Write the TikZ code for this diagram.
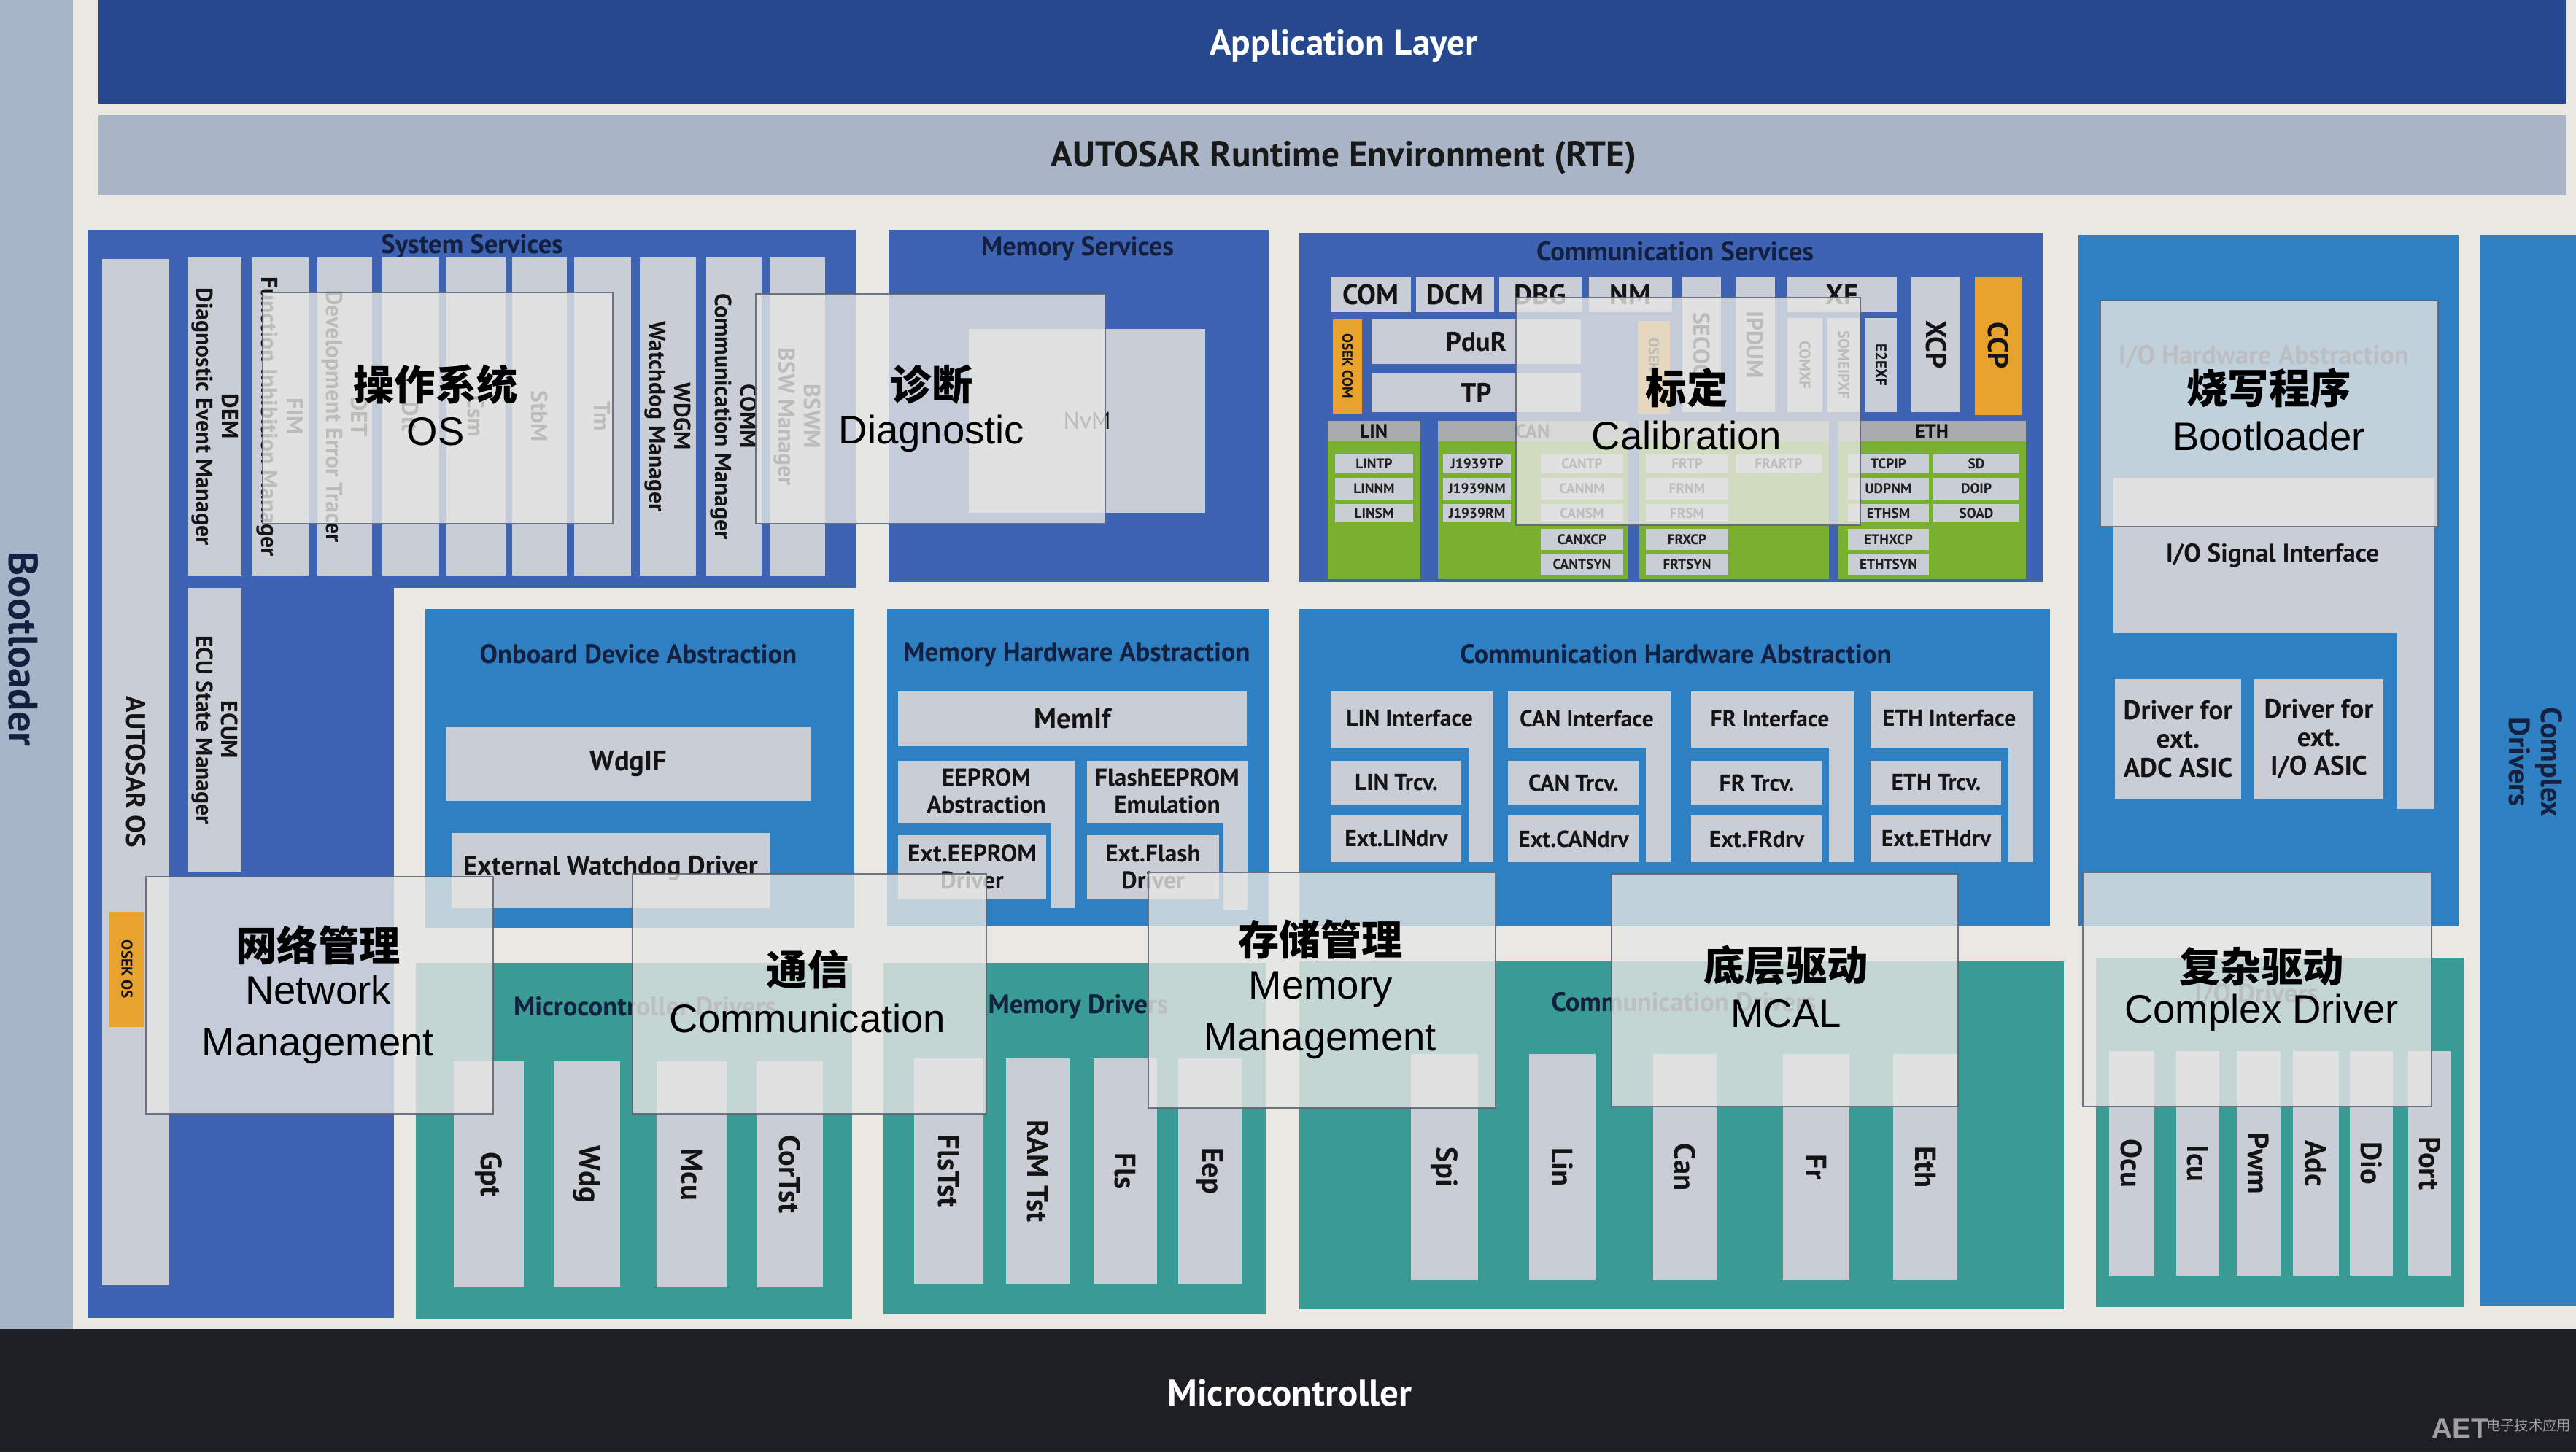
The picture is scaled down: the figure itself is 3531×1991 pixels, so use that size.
\documentclass[tikz,border=0pt]{standalone}
\usepackage{fontspec}
\setmainfont{PT Sans}
\newfontfamily\arialf{Liberation Sans}
\newfontfamily\cjkf{Noto Sans CJK SC}
\definecolor{cream}{HTML}{E9E8E3}
\definecolor{appblue}{HTML}{26488F}
\definecolor{rtegray}{HTML}{A9B5C6}
\definecolor{sysblue}{HTML}{3E63B3}
\definecolor{hwblue}{HTML}{2F80C3}
\definecolor{mcteal}{HTML}{3A9A94}
\definecolor{boxgray}{HTML}{C9CED6}
\definecolor{grn}{HTML}{79B030}
\definecolor{org}{HTML}{E8A22E}
\definecolor{hdrgray}{HTML}{A9ACAF}
\definecolor{mcblack}{HTML}{1E1F24}
\definecolor{leftstrip}{HTML}{A7B5C8}
\definecolor{titletxt}{HTML}{14203F}
\definecolor{ovlc}{HTML}{E6E6E3}
\definecolor{ovlb}{HTML}{5A6072}
\newcommand\fsz[2]{\fontsize{#1}{#2}\selectfont}
\newcommand\mybox[7]{\fill[boxgray] (#2,#3) rectangle (#4,#5);
  \node[#6] (#1) at ({(#2+#4)/2},{(#3+#5)/2}) {#7};}
\tikzset{
  ttl/.style={font=\bfseries\fsz{10.4}{12}, text=titletxt, inner sep=0pt},
  lab/.style={font=\bfseries\fsz{9}{9.9}, text=black!92, align=center, inner sep=0pt},
  vlab/.style={lab, rotate=-90},
  tinylab/.style={font=\bfseries\fsz{5.5}{6.2}, text=black!88, inner sep=0pt},
  collab/.style={font=\bfseries\fsz{11.5}{12.5}, text=black!92, rotate=-90, inner sep=0pt},
  ovl/.style={fill=ovlc, fill opacity=0.8, draw=ovlb, draw opacity=0.85, line width=0.8pt},
  cjk/.style={font=\cjkf\bfseries\fsz{16}{18}, text=black, inner sep=0pt},
  lat/.style={font=\arialf\fsz{15.5}{18}, text=black, inner sep=0pt},
}
\begin{document}
\begin{tikzpicture}[x=0.01cm,y=-0.01cm]
\useasboundingbox (0,0) rectangle (3531,1991);
% ---------- background ----------
\fill[cream] (0,0) rectangle (3531,1991);
\fill[leftstrip] (0,0) rectangle (100,1822);
\node[font=\bfseries\fsz{16}{18}, text=titletxt, rotate=-90, inner sep=0pt] (bootl) at (32,890) {Bootloader};
% ---------- application layer / RTE ----------
\fill[appblue] (135,0) rectangle (3517,142);
\node[font=\bfseries\fsz{14}{16}, text=white, inner sep=0pt] (app) at (1842,63) {Application Layer};
\fill[rtegray] (135,158) rectangle (3517,268);
\node[font=\bfseries\fsz{14}{16}, text=black!90, inner sep=0pt] (rte) at (1842,216) {AUTOSAR Runtime Environment (RTE)};
% ---------- microcontroller ----------
\fill[mcblack] (0,1822) rectangle (3531,1991);
\node[font=\bfseries\fsz{14.5}{16}, text=white, inner sep=0pt] (mc) at (1768,1910) {Microcontroller};
\node[font=\arialf\bfseries\fsz{11}{12}, text=gray!75, inner sep=0pt] (aet) at (3372,1958) {AET};
\node[font=\cjkf\fsz{5.5}{6}, text=gray!75, inner sep=0pt] (aetcn) at (3466,1954) {电子技术应用};
% ---------- System Services ----------
\fill[sysblue] (120,315) rectangle (1173,806);
\fill[sysblue] (120,806) rectangle (540,1807);
\node[ttl] (sst) at (647,338) {System Services};
\mybox{aos}{140}{355}{232}{1762}{vlab, font=\bfseries\fsz{10.5}{12}}{AUTOSAR OS}
\fill[org] (150,1250) rectangle (198,1408);
\node[vlab, font=\bfseries\fsz{6}{7}] (osekos) at (174,1329) {OSEK OS};
\mybox{dem}{258}{353}{331}{789}{vlab}{DEM\\Diagnostic Event Manager}
\mybox{fim}{345}{353}{423}{789}{vlab}{FIM\\Function Inhibition Manager}
\mybox{det}{435}{353}{510}{789}{vlab}{DET\\Development Error Tracer}
\mybox{dlt}{524}{353}{602}{789}{vlab}{Dlt}
\mybox{csm}{612}{353}{693}{789}{vlab}{Csm}
\mybox{stbm}{702}{353}{777}{789}{vlab}{StbM}
\mybox{tm}{787}{353}{865}{789}{vlab}{Tm}
\mybox{wdgm}{877}{353}{954}{789}{vlab}{WDGM\\Watchdog Manager}
\mybox{comm}{968}{353}{1044}{789}{vlab}{COMM\\Communication Manager}
\mybox{bswm}{1055}{353}{1131}{789}{vlab}{BSWM\\BSW Manager}
\mybox{ecum}{258}{806}{331}{1195}{vlab}{ECUM\\ECU State Manager}
% ---------- Memory Services ----------
\fill[sysblue] (1218,315) rectangle (1739,798);
\node[ttl] (mst) at (1477,341) {Memory Services};
\mybox{nvm}{1328}{451}{1652}{703}{lab, font=\fsz{9.5}{10}}{NvM}
% ---------- Communication Services ----------
\fill[sysblue] (1781,320) rectangle (2800,798);
\node[ttl] (cst) at (2296,345) {Communication Services};
\mybox{com}{1824}{380}{1934}{428}{lab, font=\bfseries\fsz{11}{12}}{COM}
\mybox{dcm}{1941}{380}{2048}{428}{lab, font=\bfseries\fsz{11}{12}}{DCM}
\mybox{dbg}{2055}{380}{2168}{428}{lab, font=\bfseries\fsz{11}{12}}{DBG}
\mybox{nm}{2178}{380}{2292}{428}{lab, font=\bfseries\fsz{11}{12}}{NM}
\mybox{secoc}{2306}{380}{2359}{565}{vlab}{SECOC}
\mybox{ipdum}{2379}{380}{2433}{565}{vlab}{IPDUM}
\mybox{xf}{2450}{380}{2600}{428}{lab, font=\bfseries\fsz{11}{12}}{XF}
\mybox{comxf}{2450}{436}{2498}{565}{vlab, font=\bfseries\fsz{6}{7}}{COMXF}
\mybox{someipxf}{2505}{436}{2550}{565}{vlab, font=\bfseries\fsz{6}{7}}{SOMEIPXF}
\mybox{etoexf}{2557}{436}{2600}{565}{vlab, font=\bfseries\fsz{6}{7}}{E2EXF}
\mybox{xcp}{2620}{380}{2687}{565}{vlab, font=\bfseries\fsz{11}{12}}{XCP}
\fill[org] (2707,380) rectangle (2771,569);
\node[vlab, font=\bfseries\fsz{11}{12}] (ccp) at (2739,474) {CCP};
\fill[org] (1827,438) rectangle (1867,567);
\node[vlab, font=\bfseries\fsz{5.5}{6.5}] (osekcom) at (1847,502) {OSEK COM};
\fill[org] (2245,440) rectangle (2289,567);
\node[vlab, font=\bfseries\fsz{5.5}{6.5}] (oseknm) at (2267,503) {OSEK NM};
\mybox{pdur}{1880}{438}{2167}{499}{lab, font=\bfseries\fsz{10.5}{12}}{PduR}
\mybox{tp}{1880}{512}{2167}{565}{lab, font=\bfseries\fsz{10.5}{12}}{TP}
% bus groups
\fill[hdrgray] (1820,577) rectangle (1947,605);
\fill[grn] (1820,605) rectangle (1947,794);
\node[lab, font=\bfseries\fsz{7.5}{8}] (linh) at (1883,591) {LIN};
\fill[hdrgray] (1971,577) rectangle (2232,605);
\fill[grn] (1971,605) rectangle (2232,794);
\node[lab, font=\bfseries\fsz{7.5}{8}] (canh) at (2101,591) {CAN};
\fill[hdrgray] (2247,577) rectangle (2507,605);
\fill[grn] (2247,605) rectangle (2507,794);
\fill[hdrgray] (2520,577) rectangle (2777,605);
\fill[grn] (2520,605) rectangle (2777,794);
\node[lab, font=\bfseries\fsz{7.5}{8}] (ethh) at (2648,591) {ETH};
\mybox{lintp}{1830}{623}{1937}{648}{tinylab}{LINTP}
\mybox{linnm}{1830}{655}{1937}{685}{tinylab}{LINNM}
\mybox{linsm}{1830}{691}{1937}{716}{tinylab}{LINSM}
\mybox{jtp}{1978}{623}{2071}{648}{tinylab}{J1939TP}
\mybox{jnm}{1978}{655}{2071}{685}{tinylab}{J1939NM}
\mybox{jrm}{1978}{691}{2071}{716}{tinylab}{J1939RM}
\mybox{cantp}{2112}{623}{2225}{648}{tinylab}{CANTP}
\mybox{cannm}{2112}{655}{2225}{685}{tinylab}{CANNM}
\mybox{cansm}{2112}{691}{2225}{716}{tinylab}{CANSM}
\mybox{canxcp}{2112}{725}{2225}{754}{tinylab}{CANXCP}
\mybox{cantsyn}{2112}{759}{2225}{788}{tinylab}{CANTSYN}
\mybox{frtp}{2256}{623}{2369}{648}{tinylab}{FRTP}
\mybox{frnm}{2256}{655}{2369}{685}{tinylab}{FRNM}
\mybox{frsm}{2256}{691}{2369}{716}{tinylab}{FRSM}
\mybox{frxcp}{2256}{725}{2369}{754}{tinylab}{FRXCP}
\mybox{frtsyn}{2256}{759}{2369}{788}{tinylab}{FRTSYN}
\mybox{frartp}{2379}{623}{2497}{648}{tinylab}{FRARTP}
\mybox{tcpip}{2533}{623}{2644}{648}{tinylab}{TCPIP}
\mybox{udpnm}{2533}{655}{2644}{685}{tinylab}{UDPNM}
\mybox{ethsm}{2533}{691}{2644}{716}{tinylab}{ETHSM}
\mybox{ethxcp}{2533}{725}{2644}{754}{tinylab}{ETHXCP}
\mybox{ethtsyn}{2533}{759}{2644}{788}{tinylab}{ETHTSYN}
\mybox{sd}{2650}{623}{2768}{648}{tinylab}{SD}
\mybox{doip}{2650}{655}{2768}{685}{tinylab}{DOIP}
\mybox{soad}{2650}{691}{2768}{716}{tinylab}{SOAD}
% ---------- I/O Hardware Abstraction ----------
\fill[hwblue] (2849,322) rectangle (3370,1270);
\node[ttl] (iohw) at (3103,489) {I/O Hardware Abstraction};
\fill[boxgray] (2897,656) rectangle (3337,868);
\fill[boxgray] (3285,656) rectangle (3337,1109);
\node[lab, font=\bfseries\fsz{10}{11}] (iosig) at (3115,762) {I/O Signal Interface};
\mybox{adcasic}{2899}{931}{3072}{1095}{lab, font=\bfseries\fsz{10.5}{11.2}}{Driver for\\ext.\\ADC ASIC}
\mybox{ioasic}{3090}{931}{3267}{1095}{lab, font=\bfseries\fsz{10.5}{11.2}}{Driver for\\ext.\\I/O ASIC}
% ---------- Complex Drivers ----------
\fill[hwblue] (3400,322) rectangle (3531,1790);
\node[vlab, font=\bfseries\fsz{11.5}{12.5}, text=titletxt] (cdrv) at (3476,1045) {Complex\\Drivers};
% ---------- Onboard Device Abstraction ----------
\fill[hwblue] (583,835) rectangle (1171,1272);
\node[ttl] (oda) at (875,897) {Onboard Device Abstraction};
\mybox{wdgif}{611}{997}{1112}{1098}{lab, font=\bfseries\fsz{11}{12}}{WdgIF}
\fill[boxgray] (619,1142) rectangle (1055,1245);
\node[lab, font=\bfseries\fsz{10.5}{12}] (extwdg) at (837,1190) {External Watchdog Driver};
% ---------- Memory Hardware Abstraction ----------
\fill[hwblue] (1216,835) rectangle (1739,1270);
\node[ttl] (mha) at (1476,897) {Memory Hardware Abstraction};
\mybox{memif}{1231}{948}{1709}{1023}{lab, font=\bfseries\fsz{11}{12}}{MemIf}
\fill[boxgray] (1231,1043) rectangle (1474,1128);
\fill[boxgray] (1441,1043) rectangle (1474,1245);
\node[lab, font=\bfseries\fsz{9.5}{10.5}] (eepabs) at (1352,1084) {EEPROM\\Abstraction};
\fill[boxgray] (1490,1043) rectangle (1710,1128);
\fill[boxgray] (1677,1043) rectangle (1710,1247);
\node[lab, font=\bfseries\fsz{9.5}{10.5}] (flsemu) at (1600,1084) {FlashEEPROM\\Emulation};
\mybox{exteep}{1231}{1145}{1434}{1232}{lab, font=\bfseries\fsz{9.5}{10.5}}{Ext.EEPROM\\Driver}
\mybox{extfls}{1490}{1145}{1671}{1232}{lab, font=\bfseries\fsz{9.5}{10.5}}{Ext.Flash\\Driver}
% ---------- Communication Hardware Abstraction ----------
\fill[hwblue] (1781,835) rectangle (2810,1270);
\node[ttl] (cha) at (2297,897) {Communication Hardware Abstraction};
\foreach \nm/\x/\lbl in {lin/1824/LIN,can/2067/CAN,fr/2318/FR,eth/2564/ETH}{
  \fill[boxgray] (\x,948) rectangle (\x+223,1025);
  \fill[boxgray] (\x+189,948) rectangle (\x+223,1182);
  \fill[boxgray] (\x,1043) rectangle (\x+179,1103);
  \fill[boxgray] (\x,1118) rectangle (\x+179,1182);
  \node[lab] (\nm-if) at (\x+108,985) {\lbl\ Interface};
  \node[lab] (\nm-tr) at (\x+90,1073) {\lbl\ Trcv.};
  \node[lab] (\nm-ex) at (\x+90,1150) {Ext.\lbl drv};
}
% ---------- Microcontroller Drivers ----------
\fill[mcteal] (570,1320) rectangle (1168,1808);
\node[ttl] (mcd) at (884,1380) {Microcontroller Drivers};
\mybox{gpt}{622}{1455}{718}{1765}{collab}{Gpt}
\mybox{wdg}{759}{1455}{850}{1765}{collab}{Wdg}
\mybox{mcu}{900}{1455}{996}{1765}{collab}{Mcu}
\mybox{cortst}{1037}{1455}{1128}{1765}{collab}{CorTst}
% ---------- Memory Drivers ----------
\fill[mcteal] (1211,1320) rectangle (1735,1802);
\node[ttl] (memd) at (1478,1380) {Memory Drivers};
\mybox{flstst}{1253}{1451}{1348}{1760}{collab}{FlsTst}
\mybox{ramtst}{1379}{1451}{1466}{1760}{collab}{RAM Tst}
\mybox{fls}{1499}{1451}{1586}{1760}{collab}{Fls}
\mybox{eep}{1615}{1451}{1702}{1760}{collab}{Eep}
% ---------- Communication Drivers ----------
\fill[mcteal] (1781,1318) rectangle (2829,1795);
\node[ttl] (comd) at (2308,1374) {Communication Drivers};
\mybox{spi}{1934}{1445}{2026}{1755}{collab}{Spi}
\mybox{lin}{2096}{1445}{2187}{1755}{collab}{Lin}
\mybox{can}{2266}{1445}{2353}{1755}{collab}{Can}
\mybox{fr}{2444}{1445}{2535}{1755}{collab}{Fr}
\mybox{eth}{2595}{1445}{2683}{1755}{collab}{Eth}
% ---------- I/O Drivers ----------
\fill[mcteal] (2873,1313) rectangle (3378,1792);
\node[ttl] (iod) at (3093,1364) {I/O Drivers};
\mybox{ocu}{2891}{1441}{2953}{1749}{collab}{Ocu}
\mybox{icu}{2983}{1441}{3042}{1749}{collab}{Icu}
\mybox{pwm}{3066}{1441}{3126}{1749}{collab}{Pwm}
\mybox{adc}{3143}{1441}{3206}{1749}{collab}{Adc}
\mybox{dio}{3221}{1441}{3280}{1749}{collab}{Dio}
\mybox{port}{3301}{1441}{3360}{1749}{collab}{Port}
% ---------- overlays ----------
\draw[ovl] (360,401) rectangle (840,718);
\draw[ovl] (1036,403) rectangle (1515,718);
\draw[ovl] (2078,408) rectangle (2550,720);
\draw[ovl] (2879,412) rectangle (3342,722);
\draw[ovl] (200,1202) rectangle (676,1527);
\draw[ovl] (867,1198) rectangle (1352,1527);
\draw[ovl] (1574,1196) rectangle (2050,1519);
\draw[ovl] (2209,1198) rectangle (2684,1517);
\draw[ovl] (2855,1196) rectangle (3333,1517);
\node[cjk] (oscn) at (597,527) {操作系统};
\node[lat] (osen) at (597,592) {OS};
\node[cjk] (diagcn) at (1277,527) {诊断};
\node[lat] (diagen) at (1277,594) {Diagnostic};
\node[cjk] (calcn) at (2312,532) {标定};
\node[lat] (calen) at (2312,597) {Calibration};
\node[cjk] (blcn) at (3110,532) {烧写程序};
\node[lat] (blen) at (3110,598) {Bootloader};
\node[cjk] (nmcn) at (436,1296) {网络管理};
\node[lat, align=center, font=\arialf\fsz{15.5}{20}] (nmen) at (436,1398) {Network\\Management};
\node[cjk] (comcn) at (1107,1329) {通信};
\node[lat] (comen) at (1107,1396) {Communication};
\node[cjk] (mmcn) at (1810,1288) {存储管理};
\node[lat, align=center, font=\arialf\fsz{15.5}{20}] (mmen) at (1810,1392) {Memory\\Management};
\node[cjk] (mcalcn) at (2448,1323) {底层驱动};
\node[lat] (mcalen) at (2448,1390) {MCAL};
\node[cjk] (cdcn) at (3100,1325) {复杂驱动};
\node[lat] (cden) at (3100,1388) {Complex Driver};
\end{tikzpicture}
\end{document}
